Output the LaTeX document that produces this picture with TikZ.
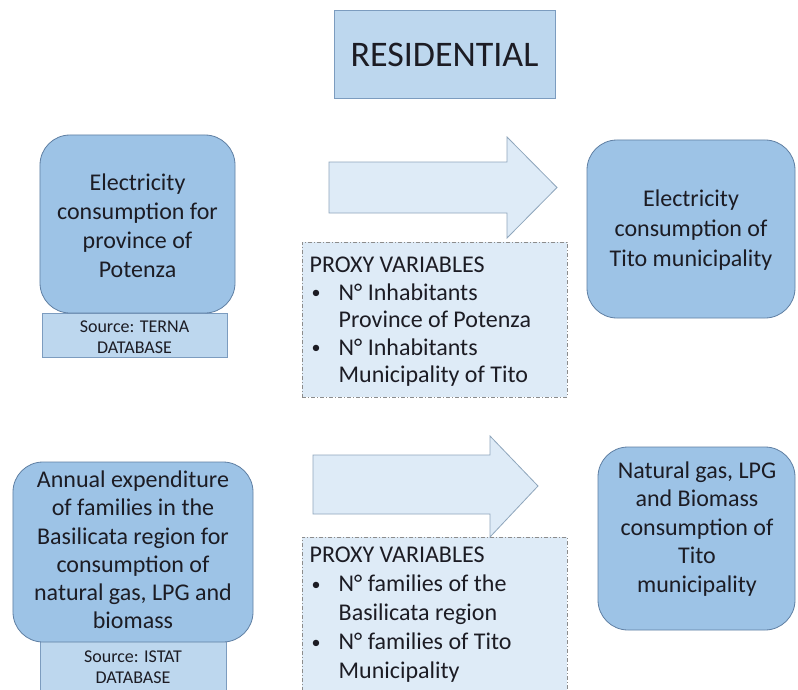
\documentclass[tikz,border=0pt]{standalone}
\usepackage{fontspec}
\usepackage{graphicx}
\setmainfont{Carlito}
\definecolor{boxblue}{HTML}{9DC3E6}
\definecolor{boxedge}{HTML}{5F7FA3}
\definecolor{srcblue}{HTML}{BDD7EE}
\definecolor{srcedge}{HTML}{7C9CBF}
\definecolor{paleblue}{HTML}{DEEBF7}
\definecolor{arrowedge}{HTML}{8FA6BC}
\definecolor{dashedge}{HTML}{8C8C8C}
\definecolor{ink}{HTML}{1C1C24}
\newcommand\bul{\makebox[29bp][l]{\hspace*{2bp}\raisebox{1.5bp}{\scalebox{0.75}{•}}}}
\newcommand\ind{\makebox[29bp]{}}
\begin{document}
\begin{tikzpicture}[x=1bp,y=-1bp,
  every node/.style={inner sep=0pt, text=ink},
  bigbox/.style={draw=boxedge, fill=boxblue, rounded corners=30bp, line width=0.8bp},
  srcbox/.style={draw=srcedge, fill=srcblue, line width=0.8bp},
  titlebox/.style={draw=srcedge, fill=srcblue, line width=0.8bp},
  proxybox/.style={draw=dashedge, fill=paleblue, line width=0.8bp,
    dash pattern=on 4bp off 2bp on 1bp off 2bp},
  blockarrow/.style={draw=arrowedge, fill=paleblue, line width=0.8bp, line join=miter},
  bodytext/.style={align=center, font=\fontsize{24bp}{29bp}\selectfont},
  srctext/.style={align=center, font=\fontsize{18bp}{20.5bp}\selectfont},
  proxytext/.style={align=left, anchor=north west, font=\fontsize{24bp}{27.5bp}\selectfont},
]
\useasboundingbox (0,0) rectangle (798,690);
\fill[white] (0,0) rectangle (798,690);

% title
\node[titlebox, minimum width=221bp, minimum height=88bp] (title) at (444.5,54) {};
\node[font=\fontsize{36bp}{40bp}\selectfont] (titletext) at (444.5,55) {RESIDENTIAL};

% ---- electricity row ----
\node[srcbox, minimum width=185bp, minimum height=44bp] (srcA) at (134.5,335) {};
\node[srctext] (srcAtext) at (134.5,337) {Source: TERNA\\DATABASE};
\node[bigbox, minimum width=195bp, minimum height=178bp] (inA) at (137.5,224) {};
\node[bodytext] (inAtext) at (137.5,226)
  {Electricity\\consumption for\\province of\\Potenza};

\node[proxybox, minimum width=265bp, minimum height=155bp] (proxyA) at (434.5,319.5) {};
\node[proxytext] (proxyAtext) at (309.5,257)
  {PROXY VARIABLES\\
   \bul N° Inhabitants\\
   \ind Province of Potenza\\
   \bul N° Inhabitants\\
   \ind Municipality of Tito};

\draw[blockarrow] (329,162) -- (507,162) -- (507,137) -- (557,187.5)
  -- (507,238) -- (507,213) -- (329,213) -- cycle;

\node[bigbox, minimum width=208bp, minimum height=178bp] (outA) at (691,229) {};
\node[bodytext, font=\fontsize{24bp}{30bp}\selectfont] (outAtext) at (691,230)
  {Electricity\\consumption of\\Tito municipality};

% ---- gas, LPG and biomass row ----
\node[srcbox, minimum width=186bp, minimum height=74bp] (srcB) at (133,673) {};
\node[srctext] (srcBtext) at (133,667) {Source: ISTAT\\DATABASE};
\node[bigbox, minimum width=240bp, minimum height=180bp] (inB) at (133,552) {};
\node[bodytext, font=\fontsize{24bp}{28.2bp}\selectfont] (inBtext) at (133,550)
  {Annual expenditure\\of families in the\\Basilicata region for\\consumption of\\natural gas, LPG and\\biomass};

\node[proxybox, minimum width=265bp, minimum height=175bp] (proxyB) at (434.5,624.5) {};
\node[proxytext, font=\fontsize{24bp}{29bp}\selectfont] (proxyBtext) at (309.5,547)
  {PROXY VARIABLES\\
   \bul N° families of the\\
   \ind Basilicata region\\
   \bul N° families of Tito\\
   \ind Municipality};

\draw[blockarrow] (313,455) -- (490,455) -- (490,436) -- (538,486)
  -- (490,537) -- (490,514) -- (313,514) -- cycle;

\node[bigbox, minimum width=197bp, minimum height=183bp] (outB) at (696.5,538.5) {};
\node[bodytext, font=\fontsize{24bp}{28.5bp}\selectfont] (outBtext) at (697,529)
  {Natural gas, LPG\\and Biomass\\consumption of\\Tito\\municipality};
\end{tikzpicture}
\end{document}
